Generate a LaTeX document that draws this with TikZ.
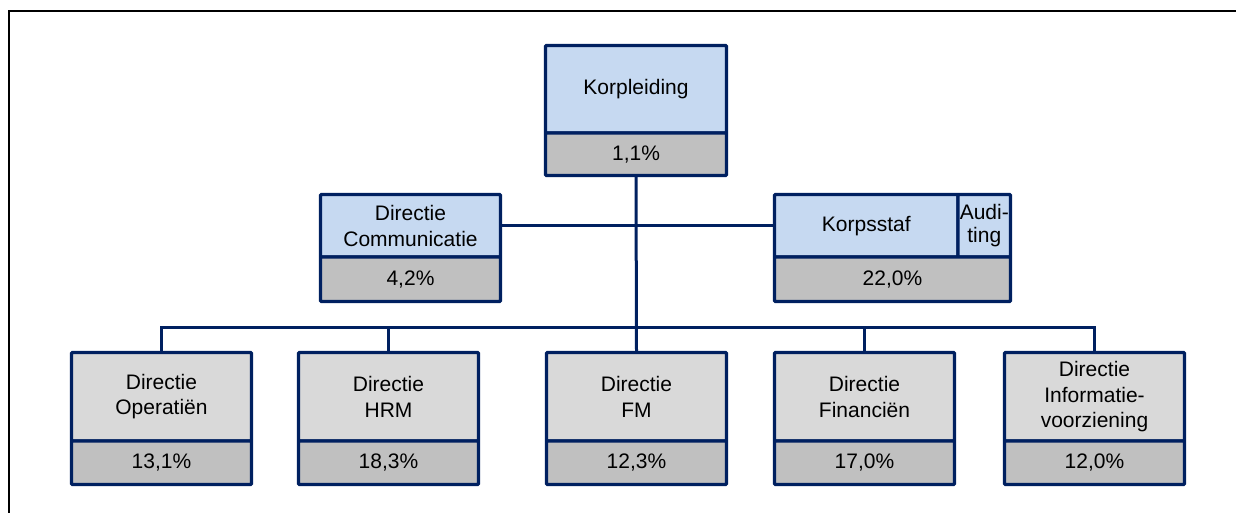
\documentclass[tikz,border=0pt]{standalone}
\usepackage{fontspec}
\setmainfont{Liberation Sans}
\usetikzlibrary{backgrounds}
\definecolor{navy}{HTML}{002060}
\definecolor{boxblue}{HTML}{C6D9F1}
\definecolor{boxgray}{HTML}{D9D9D9}
\definecolor{pctgray}{HTML}{C0C0C0}
\newcommand\orgfs{\fontsize{21}{25.5}\selectfont}
\tikzset{
  part/.style={draw=navy, line width=3.3pt, inner sep=0pt, outer sep=0pt,
    align=center, font=\orgfs, anchor=north west, rounded corners=1pt},
  topblue/.style={part, fill=boxblue},
  topgray/.style={part, fill=boxgray, minimum width=180, minimum height=88.5},
  pctbox/.style={part, fill=pctgray},
  conn/.style={draw=navy, line width=3pt},
  frame/.style={draw=black, line width=2pt}
}
\begin{document}
\begin{tikzpicture}[x=1pt,y=-1pt]
\useasboundingbox (0,0) rectangle (1236,513);
% outer frame
\coordinate (fbl) at (8.5,514);
\coordinate (ftl) at (8.5,11);
\coordinate (ftr) at (1237,11);
\draw[frame] (fbl) -- (ftl) -- (ftr);

% Korpleiding
\node[topblue, minimum width=181, minimum height=87.5] (kl) at (545.5,45.5) {Korpleiding};
\node[pctbox, minimum width=181, minimum height=42.5] (klp) at (kl.south west) {1,1\%};

% Communicatie
\node[topblue, minimum width=180, minimum height=62.5] (com) at (320.5,194.5) {Directie\\Communicatie};
\node[pctbox, minimum width=180, minimum height=44.5] (comp) at (com.south west) {4,2\%};

% Korpsstaf
\node[topblue, minimum width=183.5, minimum height=62.5] (ks) at (774.5,194.5) {Korpsstaf};
\node[topblue, minimum width=52.5, minimum height=62.5, font=\fontsize{21}{23}\selectfont] (aud) at (ks.north east) {Audi-\\ting};
\node[pctbox, minimum width=236, minimum height=44.5] (ksp) at (ks.south west) {22,0\%};

% bottom row
\node[topgray] (op) at (71.5,352.5) {Directie\\Operatiën};
\node[pctbox, minimum width=180, minimum height=43.5] (opp) at (op.south west) {13,1\%};
\node[topgray] (hrm) at (298.5,352.5) {Directie\\HRM};
\node[pctbox, minimum width=180, minimum height=43.5] (hrmp) at (hrm.south west) {18,3\%};
\node[topgray] (fm) at (546.5,352.5) {Directie\\FM};
\node[pctbox, minimum width=180, minimum height=43.5] (fmp) at (fm.south west) {12,3\%};
\node[topgray] (fin) at (774.5,352.5) {Directie\\Financiën};
\node[pctbox, minimum width=180, minimum height=43.5] (finp) at (fin.south west) {17,0\%};
\node[topgray] (info) at (1004.5,352.5) {Directie\\Informatie-\\voorziening};
\node[pctbox, minimum width=180, minimum height=43.5] (infop) at (info.south west) {12,0\%};

% connectors
\coordinate (bus) at (0,327.5);
\begin{scope}[on background layer]
\draw[conn] (klp.south) -- (fm.north);
\draw[conn] (com.east) -- (ks.west);
\draw[conn] (op.north) |- (info.north |- bus) -- (info.north);
\draw[conn] (hrm.north) -- (hrm.north |- bus);
\draw[conn] (fin.north) -- (fin.north |- bus);
\end{scope}
\end{tikzpicture}
\end{document}
